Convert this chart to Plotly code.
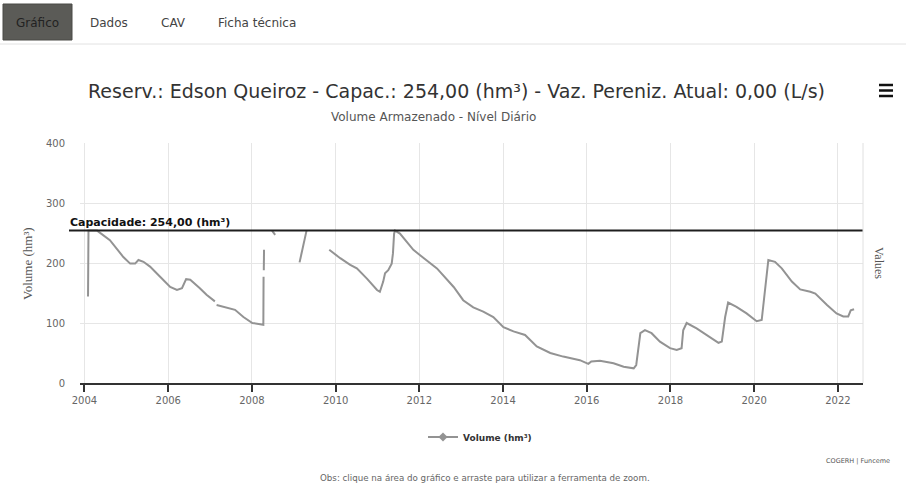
import plotly.graph_objects as go

# ---------------- data ----------------
dates = [
    "2004-02-01", "2004-02-05", "2004-04-20", "2004-08-10", "2004-12-05",
    "2005-02-03", "2005-03-18", "2005-04-16", "2005-05-30", "2005-07-26",
    "2005-10-22", "2006-01-18", "2006-03-18", "2006-05-01", "2006-06-06",
    "2006-07-12", "2006-10-04", "2006-12-01", "2007-02-12", "2007-02-20",
    "2007-02-27", "2007-04-27", "2007-06-10", "2007-08-07", "2007-10-19",
    "2008-01-05", "2008-04-10", "2008-04-12", "2008-04-13", "2008-04-14",
    "2008-04-16", "2008-05-01", "2008-06-25", "2008-07-22", "2008-09-01",
    "2009-02-20", "2009-04-22", "2009-06-01",
    "2009-11-06", "2010-02-10", "2010-05-08", "2010-07-05", "2010-10-01",
    "2010-12-28", "2011-01-22", "2011-02-20", "2011-03-08", "2011-04-05",
    "2011-05-05", "2011-05-16", "2011-05-26", "2011-06-03", "2011-07-16",
    "2011-11-10", "2012-01-08", "2012-04-05", "2012-06-03", "2012-10-27",
    "2013-01-18", "2013-04-16", "2013-07-12", "2013-10-08", "2014-01-04",
    "2014-04-02", "2014-07-12", "2014-10-22", "2015-02-17", "2015-06-10",
    "2015-09-06", "2015-11-02", "2016-01-15", "2016-02-10", "2016-04-25",
    "2016-08-22", "2016-11-18", "2017-02-14", "2017-03-08", "2017-04-13",
    "2017-05-23", "2017-07-20", "2017-10-01", "2017-12-28", "2018-02-24",
    "2018-04-08", "2018-04-22", "2018-05-22", "2018-08-17", "2018-11-13",
    "2019-02-24", "2019-03-25", "2019-04-23", "2019-05-19", "2019-07-31",
    "2019-10-27", "2020-01-23", "2020-03-07", "2020-04-05", "2020-05-04",
    "2020-07-01", "2020-08-29", "2020-11-25", "2021-02-06", "2021-05-05",
    "2021-06-18", "2021-09-28", "2021-12-20", "2022-02-17", "2022-04-01",
    "2022-04-23", "2022-05-22",
]
volume = [
    144, 254, 254, 238, 210,
    199, 199, 205, 202, 194,
    177, 160, 155, 158, 173,
    172, 158, 147, 136, None,
    130, 127, 126, 122, 110,
    100, 97, 177, None, 188,
    222, None, 254, 247, None,
    201, 254, None,
    222, 208, 197, 191, 174,
    155, 152, 169, 183, 188,
    199, 216, 249, 254, 249,
    222, 213, 200, 191, 160,
    138, 126, 119, 110, 93,
    86, 80, 61, 50, 44,
    40, 38, 32, 36, 37,
    33, 27, 24.5, 30, 83,
    88, 83, 69, 58, 55,
    58, 88, 100, 91, 80,
    67, 69, 110, 134, 127,
    116, 103, 105, 155, 205,
    202, 191, 169, 156, 152,
    149, 130, 116, 111, 111,
    121, 123,
]
capacity = 254
tick_years = ["2004", "2006", "2008", "2010", "2012", "2014", "2016", "2018", "2020", "2022"]
y_ticks = [0, 100, 200, 300, 400]

title_text = "Reserv.: Edson Queiroz - Capac.: 254,00 (hm³) - Vaz. Pereniz. Atual: 0,00 (L/s)"
subtitle_text = "Volume Armazenado - Nível Diário"
series_name = "Volume (hm³)"
cap_label = "Capacidade: 254,00 (hm³)"
tabs = ["Gráfico", "Dados", "CAV", "Ficha técnica"]

# ---------------- layout helpers ----------------
W, H = 906, 487
L, R, T, B = 80, 43, 143, 104
PW, PH = W - L - R, H - T - B


def px(x):
    return (x - L) / PW


def py(y):
    return (H - B - y) / PH


SANS = "DejaVu Sans"
fig = go.Figure()

fig.add_trace(go.Scatter(
    x=dates, y=volume, mode="lines", name=series_name, showlegend=False,
    line=dict(color="#939393", width=2), connectgaps=False,
))
# legend entry (line + marker like the original)
fig.add_trace(go.Scatter(
    x=[None], y=[None], mode="lines+markers", name="<b>" + series_name + "</b>",
    line=dict(color="#939393", width=2),
    marker=dict(symbol="diamond", size=7, color="#939393"),
))

shapes = [
    # capacity line
    dict(type="line", xref="paper", yref="y", x0=px(69), x1=1, y0=capacity, y1=capacity,
         line=dict(color="#1e1e1e", width=2)),
    # right border
    dict(type="line", xref="paper", yref="paper", x0=1, x1=1, y0=0, y1=1,
         line=dict(color="#e0e0e0", width=1)),
    # tab bar separator
    dict(type="line", xref="paper", yref="paper", x0=px(0), x1=px(906), y0=py(44), y1=py(44),
         line=dict(color="#e2e2e2", width=1)),
    # active tab
    dict(type="rect", xref="paper", yref="paper", x0=px(3), x1=px(72), y0=py(40), y1=py(4),
         fillcolor="#5b5b57", line=dict(color="#4a4a46", width=1)),
]
# hamburger menu icon
for yy in (85, 90.5, 96):
    shapes.append(dict(type="line", xref="paper", yref="paper", x0=px(879), x1=px(893),
                       y0=py(yy), y1=py(yy), line=dict(color="#111", width=2.5)))

annotations = [
    dict(text=title_text, x=px(456), y=py(91), showarrow=False, xref="paper", yref="paper",
         xanchor="center", yanchor="middle", font=dict(family=SANS, size=19, color="#333")),
    dict(text=subtitle_text, x=px(433), y=py(117), showarrow=False, xref="paper", yref="paper",
         xanchor="center", yanchor="middle", font=dict(family=SANS, size=12, color="#555")),
    dict(text="<b>" + cap_label + "</b>", x=px(68), y=capacity, yshift=8, showarrow=False,
         xref="paper", yref="y", xanchor="left", yanchor="middle",
         font=dict(family=SANS, size=11, color="#111")),
    dict(text="Volume (hm³)", x=px(27), y=py(263), showarrow=False, xref="paper", yref="paper",
         textangle=-90, xanchor="center", yanchor="middle",
         font=dict(family="Liberation Serif", size=13, color="#555")),
    dict(text="Values", x=px(879), y=py(263), showarrow=False, xref="paper", yref="paper",
         textangle=90, xanchor="center", yanchor="middle",
         font=dict(family="Liberation Serif", size=12, color="#555")),
    dict(text="COGERH | Funceme", x=px(892), y=py(461), showarrow=False, xref="paper", yref="paper",
         xanchor="right", yanchor="middle", font=dict(family=SANS, size=6.5, color="#555")),
    dict(text="Obs: clique na área do gráfico e arraste para utilizar a ferramenta de zoom.",
         x=px(485), y=py(478), showarrow=False, xref="paper", yref="paper",
         xanchor="center", yanchor="middle", font=dict(family=SANS, size=8.7, color="#666")),
]
tab_x = [37, 109, 173, 257]
for name, tx in zip(tabs, tab_x):
    annotations.append(dict(text=name, x=px(tx), y=py(23), showarrow=False, xref="paper",
                            yref="paper", xanchor="center", yanchor="middle",
                            font=dict(family=SANS, size=12,
                                      color="#222" if name == tabs[0] else "#444")))

fig.update_layout(
    width=W, height=H,
    margin=dict(l=L, r=R, t=T, b=B, pad=0),
    paper_bgcolor="white", plot_bgcolor="white",
    font=dict(family=SANS, size=10, color="#666"),
    shapes=shapes, annotations=annotations,
    showlegend=True,
    legend=dict(orientation="h", x=px(480), y=py(437), xanchor="center", yanchor="middle",
                font=dict(family=SANS, size=9, color="#333"), bgcolor="rgba(0,0,0,0)",
                itemwidth=30),
    xaxis=dict(
        type="date", range=["2003-11-23", "2022-08-08"],
        tickvals=[y + "-01-01" for y in tick_years], ticktext=tick_years,
        showgrid=True, gridcolor="#e6e6e6", gridwidth=1,
        showline=True, linecolor="#333", linewidth=2,
        ticks="outside", ticklen=7, tickcolor="#333", tickwidth=1.5,
        tickfont=dict(family=SANS, size=10, color="#666"),
        zeroline=False,
    ),
    yaxis=dict(
        range=[0, 400], tickvals=y_ticks, ticktext=[str(v) for v in y_ticks],
        showgrid=True, gridcolor="#e6e6e6", gridwidth=1,
        showline=False, zeroline=False, ticks="", ticklabelstandoff=14,
        tickfont=dict(family=SANS, size=10, color="#666"),
    ),
)

fig.write_html("out.html", config={"displayModeBar": False},
               post_script="document.body.style.margin='0';")
